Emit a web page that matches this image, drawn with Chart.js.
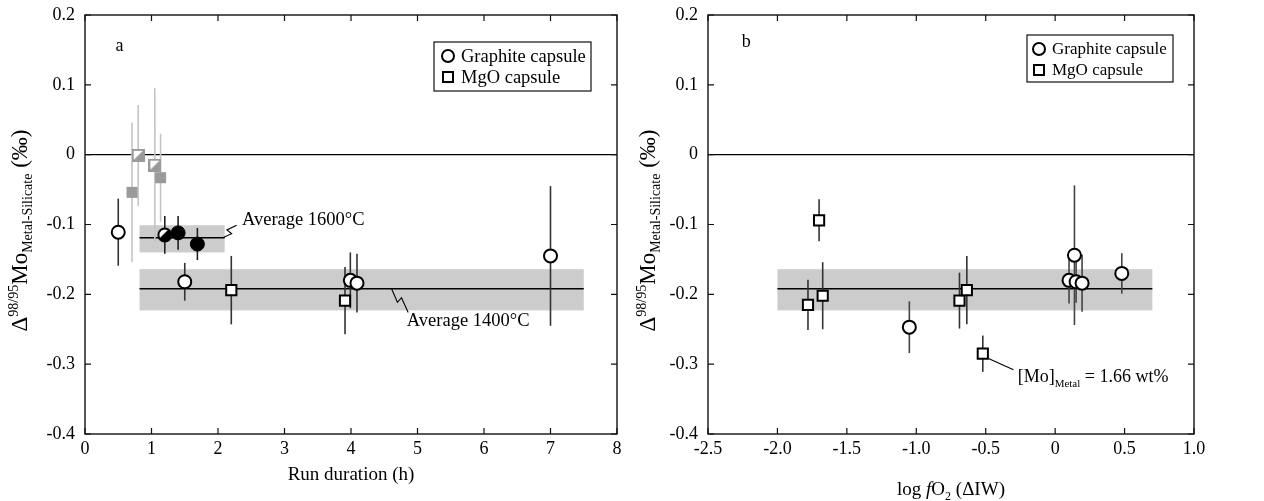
<!DOCTYPE html>
<html><head><meta charset="utf-8">
<script src="https://cdn.jsdelivr.net/npm/chart.js@4"></script>
<style>
html,body{margin:0;padding:0;background:#fff;}
#wrap{position:relative;width:1264px;height:501px;overflow:hidden;}
#cA{position:absolute;left:0;top:0;}
#cB{position:absolute;left:630px;top:0;}
</style></head><body>
<div id="wrap"><canvas id="cA" width="630" height="501"></canvas><canvas id="cB" width="634" height="501"></canvas></div>
<script>
// ---------- tick labels ----------
const yTickValues = [0.2, 0.1, 0, -0.1, -0.2, -0.3, -0.4];
const yTickLabels = ["0.2", "0.1", "0", "-0.1", "-0.2", "-0.3", "-0.4"];
const xTickValuesA = [0, 1, 2, 3, 4, 5, 6, 7, 8];
const xTickLabelsA = ["0", "1", "2", "3", "4", "5", "6", "7", "8"];
const xTickValuesB = [-2.5, -2.0, -1.5, -1.0, -0.5, 0, 0.5, 1.0];
const xTickLabelsB = ["-2.5", "-2.0", "-1.5", "-1.0", "-0.5", "0", "0.5", "1.0"];

// ---------- panel a : run duration (h) vs Δ98/95Mo ----------
const openCircleDurA = [0.5, 1.5, 3.99, 4.09, 7.0];
const openCircleDeltaA = [-0.111, -0.182, -0.180, -0.184, -0.145];
const openCircleErrA = [0.048, 0.027, 0.040, 0.042, 0.100];

const openSquareDurA = [2.2, 3.91];
const openSquareDeltaA = [-0.194, -0.209];
const openSquareErrA = [0.049, 0.048];

const blackCircleDurA = [1.4, 1.69];
const blackCircleDeltaA = [-0.112, -0.128];
const blackCircleErrA = [0.024, 0.023];

const halfCircleDurA = [1.2];
const halfCircleDeltaA = [-0.115];
const halfCircleErrA = [0.027];

const graySquareDurA = [0.707, 1.137];
const graySquareDeltaA = [-0.054, -0.033];
const graySquareErrA = [0.100, 0.063];

const halfSquareDurA = [0.80, 1.05];
const halfSquareDeltaA = [-0.001, -0.015];
const halfSquareErrA = [0.072, 0.110];

// averages (x from, x to, mean, band low, band high)
const avg1600 = [0.82, 2.10, -0.119, -0.140, -0.101];
const avg1400 = [0.82, 7.50, -0.192, -0.223, -0.164];

// ---------- panel b : log fO2 (ΔIW) vs Δ98/95Mo ----------
const squareFo2B = [-1.70, -1.78, -1.674, -0.689, -0.636, -0.521];
const squareDeltaB = [-0.094, -0.215, -0.202, -0.209, -0.194, -0.285];
const squareErrB = [0.030, 0.036, 0.048, 0.040, 0.049, 0.026];

const circleFo2B = [-1.05, 0.10, 0.139, 0.151, 0.194, 0.48];
const circleDeltaB = [-0.247, -0.180, -0.144, -0.182, -0.184, -0.170];
const circleErrB = [0.037, 0.033, 0.100, 0.030, 0.041, 0.029];

const avgB = [-2.0, 0.70, -0.192, -0.223, -0.164];

// ---------- helpers ----------
const SERIF = '"Liberation Serif", "Times New Roman", serif';
function pts(xs, ys) { return xs.map((x, i) => ({ x: x, y: ys[i] })); }

function makeHalfSquare() {
  const c = document.createElement('canvas'); c.width = 13; c.height = 13;
  const g = c.getContext('2d');
  g.fillStyle = '#fff'; g.fillRect(1, 1, 11, 11);
  g.fillStyle = '#9a9a9a';
  g.beginPath(); g.moveTo(12, 1); g.lineTo(12, 12); g.lineTo(1, 12); g.closePath(); g.fill();
  g.strokeStyle = '#9a9a9a'; g.lineWidth = 2; g.strokeRect(1, 1, 11, 11);
  return c;
}
function makeHalfCircle() {
  const c = document.createElement('canvas'); c.width = 16; c.height = 16;
  const g = c.getContext('2d');
  g.beginPath(); g.arc(8, 8, 6.5, 0, Math.PI * 2); g.fillStyle = '#fff'; g.fill();
  g.save(); g.beginPath(); g.arc(8, 8, 6.5, 0, Math.PI * 2); g.clip();
  g.beginPath(); g.moveTo(1, 13); g.lineTo(13, 1); g.lineTo(16, 16); g.lineTo(0, 16); g.closePath();
  g.fillStyle = '#000'; g.fill(); g.restore();
  g.beginPath(); g.arc(8, 8, 6.5, 0, Math.PI * 2); g.lineWidth = 2; g.strokeStyle = '#000'; g.stroke();
  return c;
}

function drawRich(ctx, parts, x, y, align) {
  let w = 0;
  parts.forEach(p => { ctx.font = (p.it ? 'italic ' : '') + p.s + 'px ' + SERIF; p.w = ctx.measureText(p.t).width; w += p.w; });
  let cx = align === 'center' ? x - w / 2 : x;
  ctx.textAlign = 'left'; ctx.textBaseline = 'alphabetic'; ctx.fillStyle = '#000';
  parts.forEach(p => { ctx.font = (p.it ? 'italic ' : '') + p.s + 'px ' + SERIF; ctx.fillText(p.t, cx, y + (p.dy || 0)); cx += p.w; });
}

function yTitleParts() {
  return [{ t: '\u0394', s: 23 }, { t: '98/95', s: 14, dy: -9 }, { t: 'Mo', s: 23 },
          { t: 'Metal-Silicate', s: 14, dy: 5 }, { t: ' (\u2030)', s: 23 }];
}

function zig(ctx, x0, y0, x1, y1) {
  const dx = x1 - x0, dy = y1 - y0, L = Math.hypot(dx, dy);
  const nx = -dy / L * 3, ny = dx / L * 3;
  ctx.beginPath(); ctx.moveTo(x0, y0);
  ctx.lineTo(x0 + dx * 0.5 + nx, y0 + dy * 0.5 + ny);
  ctx.lineTo(x0 + dx * 0.45 - nx, y0 + dy * 0.45 - ny);
  ctx.lineTo(x1, y1); ctx.stroke();
}

const panelPlugin = {
  id: 'panel',
  beforeDatasetsDraw(chart) {
    const o = chart.options.plugins.panel, ctx = chart.ctx;
    const xs = chart.scales.x, ys = chart.scales.y, a = chart.chartArea;
    ctx.save();
    o.bands.forEach(b => {
      ctx.fillStyle = '#cccccc';
      const x0 = xs.getPixelForValue(b[0]), x1 = xs.getPixelForValue(b[1]);
      const y0 = ys.getPixelForValue(b[4]), y1 = ys.getPixelForValue(b[3]);
      ctx.fillRect(x0, y0, x1 - x0, y1 - y0);
    });
    ctx.strokeStyle = '#000'; ctx.lineWidth = 1.2;
    const yz = ys.getPixelForValue(0);
    ctx.beginPath(); ctx.moveTo(a.left, yz); ctx.lineTo(a.right, yz); ctx.stroke();
    o.bands.forEach(b => {
      const ym = ys.getPixelForValue(b[2]);
      ctx.lineWidth = 1.5;
      ctx.beginPath(); ctx.moveTo(xs.getPixelForValue(b[0]), ym); ctx.lineTo(xs.getPixelForValue(b[1]), ym); ctx.stroke();
    });
    ctx.lineWidth = 1.1; ctx.strokeStyle = '#000';
    (o.leaders || []).forEach(l => {
      const x0 = xs.getPixelForValue(l.from[0]), y0 = ys.getPixelForValue(l.from[1]);
      const x1 = xs.getPixelForValue(l.to[0]), y1 = ys.getPixelForValue(l.to[1]);
      if (l.zig) zig(ctx, x0, y0, x1, y1);
      else { ctx.beginPath(); ctx.moveTo(x0, y0); ctx.lineTo(x1, y1); ctx.stroke(); }
    });
    chart.data.datasets.forEach(ds => {
      if (!ds.errors) return;
      ctx.strokeStyle = ds.errColor; ctx.lineWidth = 1.6;
      ds.data.forEach((p, i) => {
        const px = xs.getPixelForValue(p.x);
        ctx.beginPath();
        ctx.moveTo(px, ys.getPixelForValue(p.y + ds.errors[i]));
        ctx.lineTo(px, ys.getPixelForValue(p.y - ds.errors[i]));
        ctx.stroke();
      });
    });
    ctx.restore();
  },
  afterDraw(chart) {
    const o = chart.options.plugins.panel, ctx = chart.ctx;
    const xs = chart.scales.x, ys = chart.scales.y, a = chart.chartArea;
    ctx.save();
    ctx.strokeStyle = '#111'; ctx.lineWidth = 1.4;
    ctx.strokeRect(a.left, a.top, a.right - a.left, a.bottom - a.top);
    ctx.lineWidth = 1.2;
    xs.ticks.forEach(t => {
      const px = xs.getPixelForValue(t.value);
      ctx.beginPath(); ctx.moveTo(px, a.bottom); ctx.lineTo(px, a.bottom - 6);
      ctx.moveTo(px, a.top); ctx.lineTo(px, a.top + 6); ctx.stroke();
    });
    ys.ticks.forEach(t => {
      const py = ys.getPixelForValue(t.value);
      ctx.beginPath(); ctx.moveTo(a.left, py); ctx.lineTo(a.left + 6, py);
      ctx.moveTo(a.right, py); ctx.lineTo(a.right - 6, py); ctx.stroke();
    });
    ctx.font = '18px ' + SERIF; ctx.fillStyle = '#000'; ctx.textAlign = 'center'; ctx.textBaseline = 'middle';
    ctx.fillText(o.letter[0], xs.getPixelForValue(o.letter[1]), ys.getPixelForValue(o.letter[2]));
    const L = o.legend;
    ctx.lineWidth = 1.2; ctx.strokeStyle = '#111';
    ctx.strokeRect(L.x, L.y, L.w, L.h);
    ctx.lineWidth = 2; ctx.strokeStyle = '#000'; ctx.fillStyle = '#fff';
    ctx.beginPath(); ctx.arc(L.mx, L.r1, 6, 0, Math.PI * 2); ctx.fill(); ctx.stroke();
    ctx.fillRect(L.mx - 5, L.r2 - 5, 10, 10); ctx.strokeRect(L.mx - 5, L.r2 - 5, 10, 10);
    ctx.fillStyle = '#000'; ctx.font = L.fs + 'px ' + SERIF; ctx.textAlign = 'left'; ctx.textBaseline = 'middle';
    ctx.fillText(L.items[0], L.tx, L.r1 + 1); ctx.fillText(L.items[1], L.tx, L.r2 + 1);
    (o.notes || []).forEach(n => {
      drawRich(ctx, n.parts, xs.getPixelForValue(n.at[0]), ys.getPixelForValue(n.at[1]), 'left');
    });
    drawRich(ctx, o.xTitle, (a.left + a.right) / 2, o.xTitleY, 'center');
    ctx.save();
    ctx.translate(o.yTitleX, (a.top + a.bottom) / 2 + 6);
    ctx.rotate(-Math.PI / 2);
    drawRich(ctx, yTitleParts(), 0, 0, 'center');
    ctx.restore();
    ctx.restore();
  }
};

function baseScales(xmin, xmax, xVals, xLabs, yLeft) {
  return {
    x: {
      type: 'linear', min: xmin, max: xmax,
      grid: { display: false, drawTicks: false }, border: { display: false },
      afterBuildTicks: s => { s.ticks = xVals.map(v => ({ value: v })); },
      afterFit: s => { s.height = 67; s.paddingLeft = 0; s.paddingRight = 0; },
      ticks: { color: '#000', font: { family: SERIF, size: 18 }, padding: 4,
        callback: (v) => { const i = xVals.findIndex(t => Math.abs(t - v) < 1e-9); return i >= 0 ? xLabs[i] : ''; } }
    },
    y: {
      type: 'linear', min: -0.4, max: 0.2,
      grid: { display: false, drawTicks: false }, border: { display: false },
      afterBuildTicks: s => { s.ticks = yTickValues.map(v => ({ value: v })); },
      afterFit: s => { s.width = yLeft; s.paddingTop = 0; s.paddingBottom = 0; },
      ticks: { color: '#000', font: { family: SERIF, size: 18 }, padding: 10,
        callback: (v) => { const i = yTickValues.findIndex(t => Math.abs(t - v) < 1e-9); return i >= 0 ? yTickLabels[i] : ''; } }
    }
  };
}

const halfSq = makeHalfSquare();
const halfCi = makeHalfCircle();

new Chart(document.getElementById('cA'), {
  type: 'scatter',
  data: {
    datasets: [
      { data: pts(graySquareDurA, graySquareDeltaA), errors: graySquareErrA, errColor: '#c4c4c4',
        pointStyle: 'rect', pointRadius: 7.8, backgroundColor: '#9a9a9a', borderColor: '#9a9a9a', borderWidth: 0 },
      { data: pts(halfSquareDurA, halfSquareDeltaA), errors: halfSquareErrA, errColor: '#c4c4c4',
        pointStyle: halfSq, pointRadius: 7 },
      { data: pts(openCircleDurA, openCircleDeltaA), errors: openCircleErrA, errColor: '#333',
        pointStyle: 'circle', pointRadius: 6.5, backgroundColor: '#fff', borderColor: '#000', borderWidth: 2 },
      { data: pts(openSquareDurA, openSquareDeltaA), errors: openSquareErrA, errColor: '#333',
        pointStyle: 'rect', pointRadius: 7.2, backgroundColor: '#fff', borderColor: '#000', borderWidth: 2 },
      { data: pts(blackCircleDurA, blackCircleDeltaA), errors: blackCircleErrA, errColor: '#222',
        pointStyle: 'circle', pointRadius: 7, backgroundColor: '#000', borderColor: '#000', borderWidth: 1 },
      { data: pts(halfCircleDurA, halfCircleDeltaA), errors: halfCircleErrA, errColor: '#222',
        pointStyle: halfCi, pointRadius: 7 }
    ]
  },
  options: {
    responsive: false, animation: false, devicePixelRatio: 1, events: [],
    layout: { padding: { top: 15, right: 13, left: 0, bottom: 0 } },
    scales: baseScales(0, 8, xTickValuesA, xTickLabelsA, 85),
    plugins: {
      legend: { display: false }, tooltip: { enabled: false },
      panel: {
        bands: [avg1600, avg1400],
        leaders: [{ from: [2.07, -0.119], to: [2.28, -0.101], zig: true },
                  { from: [4.61, -0.192], to: [4.86, -0.226], zig: true }],
        notes: [{ at: [2.36, -0.101], parts: [{ t: 'Average 1600\u00B0C', s: 18.5 }] },
                { at: [4.84, -0.246], parts: [{ t: 'Average 1400\u00B0C', s: 18.5 }] }],
        letter: ['a', 0.52, 0.155],
        legend: { x: 434, y: 42, w: 157, h: 49, mx: 448, r1: 56, r2: 77, tx: 461, fs: 18.5,
                  items: ['Graphite capsule', 'MgO capsule'] },
        xTitle: [{ t: 'Run duration (h)', s: 19 }],
        xTitleY: 480,
        yTitleX: 27
      }
    }
  },
  plugins: [panelPlugin]
});

new Chart(document.getElementById('cB'), {
  type: 'scatter',
  data: {
    datasets: [
      { data: pts(squareFo2B, squareDeltaB), errors: squareErrB, errColor: '#333',
        pointStyle: 'rect', pointRadius: 7.2, backgroundColor: '#fff', borderColor: '#000', borderWidth: 2 },
      { data: pts(circleFo2B, circleDeltaB), errors: circleErrB, errColor: '#444',
        pointStyle: 'circle', pointRadius: 6.5, backgroundColor: '#fff', borderColor: '#000', borderWidth: 2 }
    ]
  },
  options: {
    responsive: false, animation: false, devicePixelRatio: 1, events: [],
    layout: { padding: { top: 15, right: 70, left: 0, bottom: 0 } },
    scales: baseScales(-2.5, 1.0, xTickValuesB, xTickLabelsB, 78),
    plugins: {
      legend: { display: false }, tooltip: { enabled: false },
      panel: {
        bands: [avgB],
        leaders: [{ from: [-0.48, -0.292], to: [-0.30, -0.308], zig: false }],
        notes: [{ at: [-0.27, -0.326], parts: [{ t: '[Mo]', s: 18 }, { t: 'Metal', s: 11, dy: 5 }, { t: ' = 1.66 wt%', s: 18 }] }],
        letter: ['b', 0.275 - 2.5, 0.161],
        legend: { x: 397, y: 35, w: 146, h: 47, mx: 409, r1: 49, r2: 70, tx: 422, fs: 17,
                  items: ['Graphite capsule', 'MgO capsule'] },
        xTitle: [{ t: 'log ', s: 19 }, { t: 'f', s: 19, it: true }, { t: 'O', s: 19 }, { t: '2', s: 12, dy: 5 }, { t: ' (\u0394IW)', s: 19 }],
        xTitleY: 495,
        yTitleX: 25
      }
    }
  },
  plugins: [panelPlugin]
});
</script>
</body></html>
